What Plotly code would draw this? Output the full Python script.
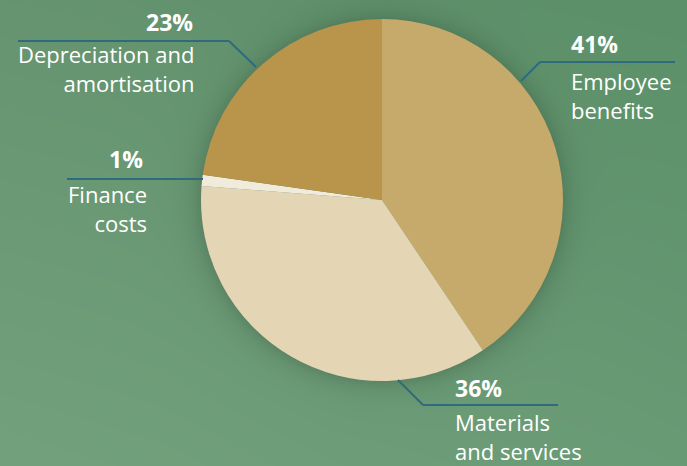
import base64
import struct
import zlib

import numpy as np
import plotly.graph_objects as go

# Expense breakdown
categories = ["Employee benefits", "Materials and services", "Finance costs",
              "Depreciation and amortisation"]
shares = [41, 36, 1, 23]
pct_labels = ["41%", "36%", "1%", "23%"]
name_labels = ["Employee<br>benefits", "Materials<br>and services", "Finance<br>costs",
               "Depreciation and<br>amortisation"]
slice_colors = ["#c6aa6c", "#e4d5b5", "#f1ebdc", "#b8954a"]

W, H = 687, 466
CX, CY, R = 382, 200, 181  # pie centre and radius in pixels


def px(x, y):
    """Pixel position -> paper coordinates."""
    return x / W, 1 - y / H


def png_data_uri(rgb):
    h, w, _ = rgb.shape
    raw = b"".join(b"\x00" + rgb[i].tobytes() for i in range(h))

    def chunk(tag, data):
        c = struct.pack(">I", len(data)) + tag + data
        return c + struct.pack(">I", zlib.crc32(tag + data) & 0xFFFFFFFF)

    png = (b"\x89PNG\r\n\x1a\n"
           + chunk(b"IHDR", struct.pack(">IIBBBBB", w, h, 8, 2, 0, 0, 0))
           + chunk(b"IDAT", zlib.compress(raw, 9))
           + chunk(b"IEND", b""))
    return "data:image/png;base64," + base64.b64encode(png).decode()


# Green gradient backdrop with a soft shadow ring around the pie
yy, xx = np.mgrid[0:H, 0:W].astype(float)
u, v = xx / (W - 1), yy / (H - 1)
tl, tr = np.array([0x66, 0x94, 0x70]), np.array([0x5b, 0x90, 0x68])
bl, br = np.array([0x73, 0xa1, 0x7d]), np.array([0x69, 0x9b, 0x75])
bg = ((1 - u)[..., None] * (1 - v)[..., None] * tl + u[..., None] * (1 - v)[..., None] * tr
      + (1 - u)[..., None] * v[..., None] * bl + u[..., None] * v[..., None] * br)
d = np.hypot(xx - CX, yy - CY) - R
shade = np.where(d > 0, 0.14 * np.exp(-np.clip(d, 0, None) / 12.0), 0.14)
bg = bg * (1 - shade[..., None])
bg_uri = png_data_uri(np.clip(bg, 0, 255).astype(np.uint8))

fig = go.Figure()
fig.add_trace(go.Pie(
    labels=categories,
    values=shares,
    sort=False,
    direction="clockwise",
    rotation=0,
    marker=dict(colors=slice_colors, line=dict(width=0)),
    textinfo="none",
    hoverinfo="label+percent",
    showlegend=False,
    domain=dict(x=[(CX - R) / W, (CX + R) / W], y=[(H - CY - R) / H, (H - CY + R) / H]),
))

LINE = "#2e6b7e"
# each leader: horizontal rule then a diagonal to the slice edge, in pixels
leaders = [
    [((540, 62), (675, 62)), ((540, 62), (521, 81))],     # Employee benefits
    [((423, 405), (558, 405)), ((423, 405), (398, 380))],  # Materials and services
    [((67, 179), (203, 179)), None],                        # Finance costs
    [((18, 41), (229, 41)), ((229, 41), (256, 67))],       # Depreciation and amortisation
]
shapes = []
for segs in leaders:
    for seg in segs:
        if seg is None:
            continue
        a, b = px(*seg[0]), px(*seg[1])
        shapes.append(dict(type="line", xref="paper", yref="paper", x0=a[0], y0=a[1],
                           x1=b[0], y1=b[1], line=dict(color=LINE, width=2)))

FONT = "Open Sans"
pct_pos = [(569, 44, "left"), (453, 388, "left"), (145, 159, "right"), (195, 22, "right")]
name_pos = [(569, 96, "left"), (453, 436, "left"), (149, 208, "right"), (196, 68, "right")]
annotations = []
for txt, (x, y, side) in zip(pct_labels, pct_pos):
    ax, ay = px(x, y)
    annotations.append(dict(x=ax, y=ay, xref="paper", yref="paper", text=f"<b>{txt}</b>",
                            showarrow=False, xanchor=side, yanchor="middle", align=side,
                            font=dict(family=FONT, size=23, color="white")))
for txt, (x, y, side) in zip(name_labels, name_pos):
    ax, ay = px(x, y)
    annotations.append(dict(x=ax, y=ay, xref="paper", yref="paper", text=txt,
                            showarrow=False, xanchor=side, yanchor="middle", align=side,
                            font=dict(family=FONT, size=22, color="white")))

fig.update_layout(
    width=W, height=H,
    margin=dict(l=0, r=0, t=0, b=0),
    paper_bgcolor="#64966f",
    plot_bgcolor="rgba(0,0,0,0)",
    images=[dict(source=bg_uri, xref="paper", yref="paper", x=0, y=1, sizex=1, sizey=1,
                 sizing="stretch", xanchor="left", yanchor="top", layer="below")],
    shapes=shapes,
    annotations=annotations,
)

fig.write_html("out.html")
